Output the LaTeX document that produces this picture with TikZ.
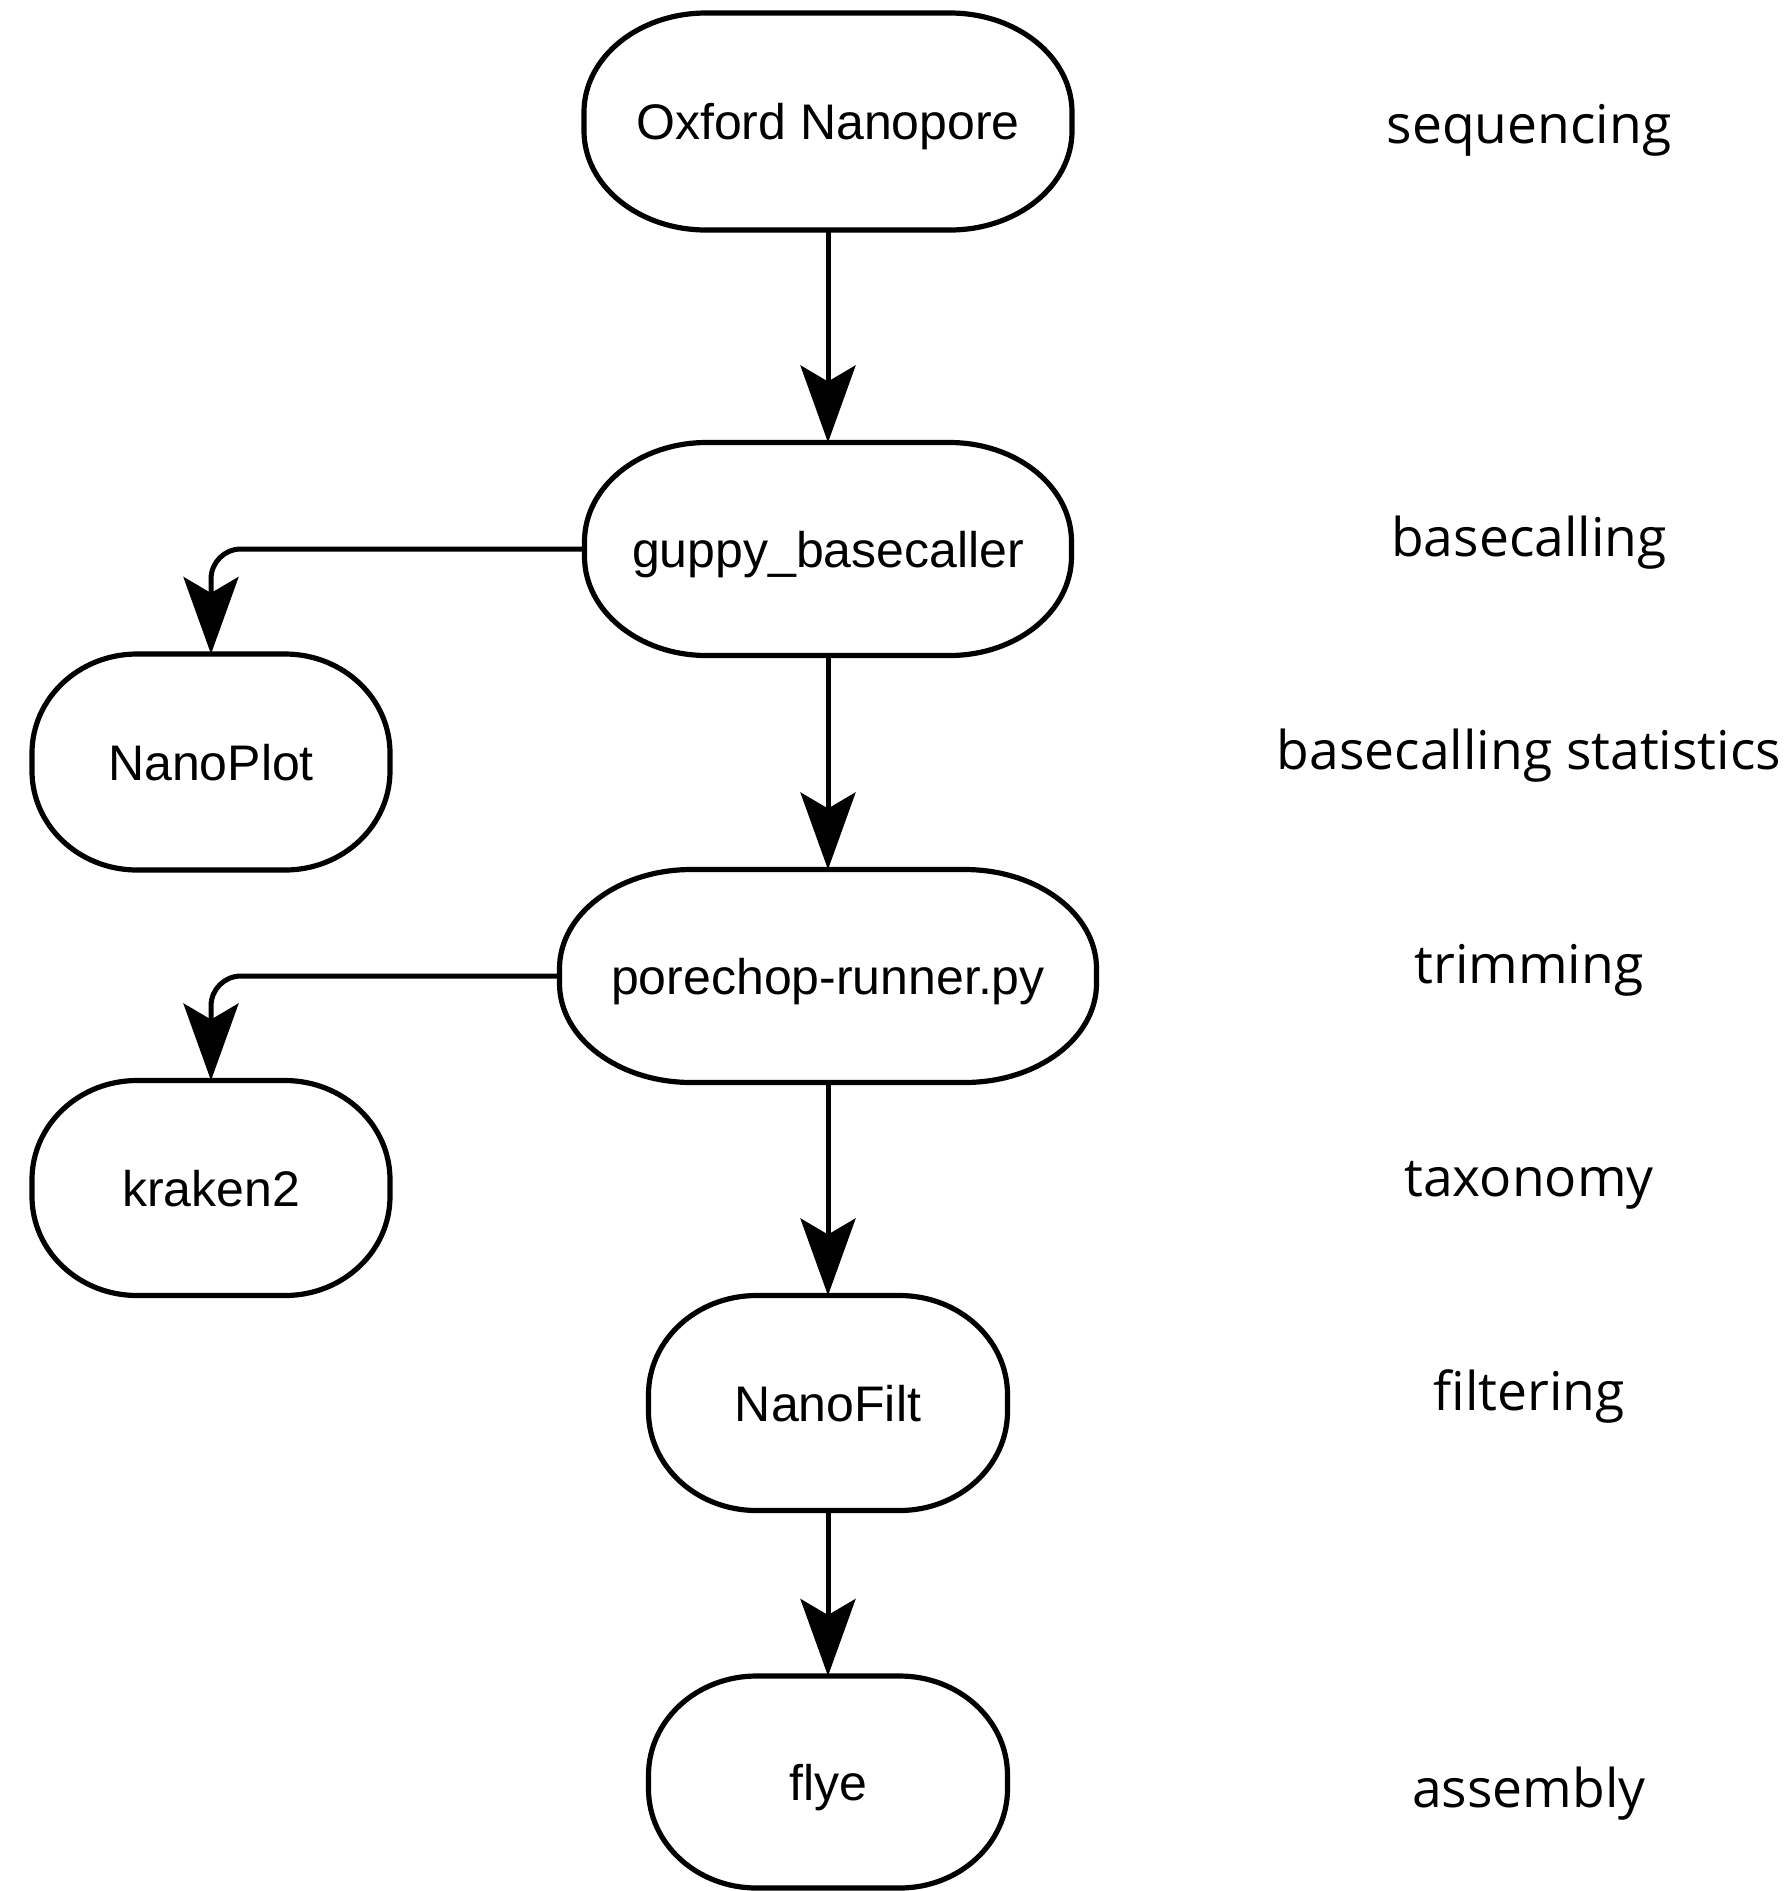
\documentclass[tikz,border=0pt]{standalone}
\usepackage{fontspec}
\setmainfont{Liberation Sans}
\newfontfamily\labelfont{Open Sans}
\usetikzlibrary{arrows.meta,calc}

\tikzset{
  proctext/.style={inner sep=0pt, outer sep=0pt, text height=36pt, text depth=0pt,
    font=\fontsize{50pt}{59pt}\selectfont, text=black},
  outline/.style={line width=5.2pt, draw=black, line join=round},
  conn/.style={line width=5pt, draw=black, -{Stealth[length=77pt,width=55pt,inset=16pt]}},
  sideconn/.style={conn, rounded corners=30pt},
  stagelabel/.style={anchor=base, inner sep=0pt, text=black,
    font=\labelfont\fontsize{53.4pt}{62pt}\selectfont},
}

% name, x, y, width, height, corner x-radius, text
\newcommand\procnode[7]{%
  \node[proctext, minimum width=#4pt, minimum height=#5pt] (#1) at (#2,#3) {#7};
  \draw[outline]
    ($(#1.north east)+(-#6pt,0pt)$)
      arc[start angle=90,end angle=0,x radius=#6pt,y radius=99pt]
    -- ($(#1.south east)+(0pt,99pt)$)
      arc[start angle=0,end angle=-90,x radius=#6pt,y radius=99pt]
    -- ($(#1.south west)+(#6pt,0pt)$)
      arc[start angle=270,end angle=180,x radius=#6pt,y radius=99pt]
    -- ($(#1.north west)+(0pt,-99pt)$)
      arc[start angle=180,end angle=90,x radius=#6pt,y radius=99pt]
    -- cycle;
}

\begin{document}
\begin{tikzpicture}[x=1pt,y=-1pt]
  \fill[white] (0,0) rectangle (1791,1891);
  \useasboundingbox (0,0) rectangle (1791,1891);

  \procnode{ont}{828}{121.5}{488}{217}{122}{Oxford Nanopore}
  \procnode{guppy}{828}{549}{487}{213}{122}{guppy\_basecaller}
  \procnode{nanoplot}{211}{762}{358}{216}{105}{NanoPlot}
  \procnode{porechop}{828}{976}{537}{213}{132}{porechop-runner.py}
  \procnode{kraken}{211}{1188}{358}{215}{105}{kraken2}
  \procnode{nanofilt}{828}{1403}{359}{215}{108}{NanoFilt}
  \procnode{flye}{828}{1782}{359}{212}{108}{flye}

  \draw[conn] (ont.south) -- (guppy.north);
  \draw[conn] (guppy.south) -- (porechop.north);
  \draw[conn] (porechop.south) -- (nanofilt.north);
  \draw[conn] (nanofilt.south) -- (flye.north);
  \draw[sideconn] (guppy.west) -| (nanoplot.north);
  \draw[sideconn] (porechop.west) -| (kraken.north);

  \node[stagelabel] (lseq) at (1529,143) {sequencing};
  \node[stagelabel] (lbase) at (1529,556) {basecalling};
  \node[stagelabel] (lstat) at (1529,769) {basecalling statistics};
  \node[stagelabel] (ltrim) at (1529,983) {trimming};
  \node[stagelabel] (ltax) at (1529,1196) {taxonomy};
  \node[stagelabel] (lfilt) at (1529,1410) {filtering};
  \node[stagelabel] (lasm) at (1529,1807) {assembly};
\end{tikzpicture}
\end{document}
